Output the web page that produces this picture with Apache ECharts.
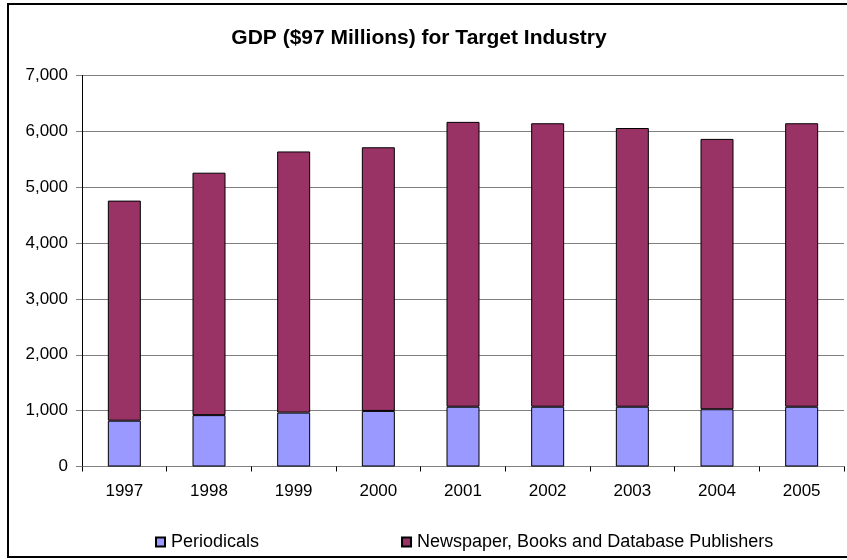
<!DOCTYPE html>
<html>
<head>
<meta charset="utf-8">
<script src="https://cdn.jsdelivr.net/npm/echarts@6/dist/echarts.min.js"></script>
<style>
html,body{margin:0;padding:0;background:#fff;}
#chart{width:847px;height:560px;}
</style>
</head>
<body>
<div id="chart"></div>
<script>
var years = ['1997','1998','1999','2000','2001','2002','2003','2004','2005'];
var periodicals = [820, 920, 965, 995, 1070, 1070, 1070, 1025, 1070];
var newspaperBooksDb = [3940, 4340, 4675, 4720, 5100, 5075, 4990, 4840, 5075];
var yTicks = [0, 1000, 2000, 3000, 4000, 5000, 6000, 7000];
var seriesNames = ['Periodicals', 'Newspaper, Books and Database Publishers'];
var titleText = 'GDP ($97 Millions) for Target Industry';

var FONT = 'Liberation Sans, Arial, sans-serif';
var chart = echarts.init(document.getElementById('chart'), null, {renderer: 'canvas'});
chart.setOption({
  animation: false,
  backgroundColor: '#ffffff',
  title: {
    text: titleText,
    left: 419,
    textAlign: 'center',
    top: 28,
    padding: 0,
    textStyle: {fontFamily: FONT, fontSize: 21, fontWeight: 'bold', color: '#000'}
  },
  legend: {
    data: seriesNames,
    left: 155,
    top: 533,
    padding: 0,
    itemGap: 142,
    itemWidth: 9,
    itemHeight: 9,
    icon: 'rect',
    textStyle: {fontFamily: FONT, fontSize: 18, color: '#000', padding: [0,0,0,1]}
  },
  grid: {left: 82, right: 3, top: 75.5, bottom: 93.5, containLabel: false},
  xAxis: {
    type: 'category',
    data: years,
    axisLine: {lineStyle: {color: '#808080', width: 1}},
    axisTick: {show: true, alignWithLabel: false, length: 5, lineStyle: {color: '#000'}},
    axisLabel: {fontFamily: FONT, fontSize: 17, color: '#000', margin: 16}
  },
  yAxis: {
    type: 'value',
    min: yTicks[0],
    max: yTicks[yTicks.length - 1],
    interval: yTicks[1] - yTicks[0],
    axisLine: {show: true, lineStyle: {color: '#000', width: 1}},
    axisTick: {show: true, length: 6, lineStyle: {color: '#808080'}},
    splitLine: {show: true, lineStyle: {color: '#808080', width: 1}},
    axisLabel: {
      fontFamily: FONT, fontSize: 17, color: '#000', margin: 14,
      formatter: function (v) { return v.toLocaleString('en-US'); }
    }
  },
  series: [
    {
      name: seriesNames[0], type: 'bar', stack: 'total', data: periodicals,
      barWidth: 33,
      itemStyle: {color: '#9999FF', borderColor: '#000', borderWidth: 1}
    },
    {
      name: seriesNames[1], type: 'bar', stack: 'total', data: newspaperBooksDb,
      barWidth: 33,
      itemStyle: {color: '#993366', borderColor: '#000', borderWidth: 1}
    }
  ],
  graphic: [{
    type: 'rect',
    shape: {x: 8, y: 4, width: 900, height: 553},
    style: {fill: 'none', stroke: '#000', lineWidth: 2},
    silent: true, z: 100
  }]
});
</script>
</body>
</html>
